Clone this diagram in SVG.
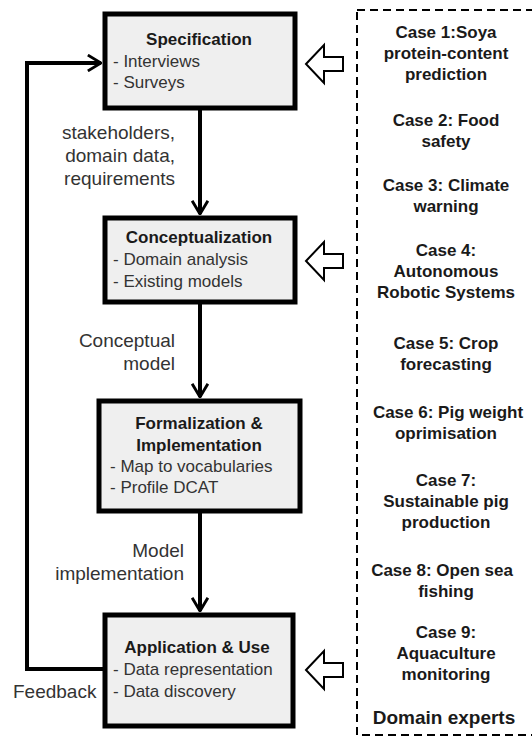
<svg xmlns="http://www.w3.org/2000/svg" width="532" height="737" viewBox="0 0 532 737">
<defs>
<style>
.box{fill:#efefef;stroke:#000;stroke-width:5}
.h{font-family:"Liberation Sans",Arial,sans-serif;font-size:17px;font-weight:bold;fill:#1a1a1a;text-anchor:middle}
.i{font-family:"Liberation Sans",Arial,sans-serif;font-size:17px;fill:#333}
.lbl{font-family:"Liberation Sans",Arial,sans-serif;font-size:19px;fill:#333}
.c{font-family:"Liberation Sans",Arial,sans-serif;font-size:17px;font-weight:bold;fill:#1a1a1a;text-anchor:middle}
.conn{fill:none;stroke:#000;stroke-width:4}
.hollow{fill:#fff;stroke:#000;stroke-width:2;stroke-linejoin:miter}
</style>
<marker id="ah" viewBox="0 0 12 14" refX="11" refY="7" markerWidth="4" markerHeight="4.6" markerUnits="strokeWidth" orient="auto">
<path d="M1,1 L11,7 L1,13" fill="none" stroke="#000" stroke-width="2.2"/>
</marker>
</defs>
<rect width="532" height="737" fill="#fff"/>

<g id="connectors">
<line class="conn" x1="200" y1="110" x2="200" y2="214" marker-end="url(#ah)"/>
<line class="conn" x1="200" y1="304" x2="200" y2="397" marker-end="url(#ah)"/>
<line class="conn" x1="200" y1="513" x2="200" y2="611" marker-end="url(#ah)"/>
<polyline class="conn" points="103,669 27,669 27,63 101,63" marker-end="url(#ah)"/>
<text class="lbl" x="175" y="139" text-anchor="end">stakeholders,</text>
<text class="lbl" x="175" y="162" text-anchor="end">domain data,</text>
<text class="lbl" x="175" y="185" text-anchor="end">requirements</text>
<text class="lbl" x="175" y="347" text-anchor="end">Conceptual</text>
<text class="lbl" x="175" y="370" text-anchor="end">model</text>
<text class="lbl" x="184" y="557" text-anchor="end">Model</text>
<text class="lbl" x="184" y="580" text-anchor="end">implementation</text>
<text class="lbl" x="13" y="698">Feedback</text>
<polygon class="hollow" points="306,64 324,45 324,57 343,57 343,71 324,71 324,83"/>
<polygon class="hollow" points="306,261 324,242 324,254 343,254 343,268 324,268 324,280"/>
<polygon class="hollow" points="306,670 324,651 324,663 343,663 343,677 324,677 324,689"/>
</g>

<g id="specification">
<rect class="box" x="105" y="14" width="190" height="94"/>
<text class="h" x="199" y="45">Specification</text>
<text class="i" x="113" y="67">- Interviews</text>
<text class="i" x="113" y="88">- Surveys</text>
</g>

<g id="conceptualization">
<rect class="box" x="105" y="218" width="190" height="84"/>
<text class="h" x="199" y="243">Conceptualization</text>
<text class="i" x="113" y="265">- Domain analysis</text>
<text class="i" x="113" y="287">- Existing models</text>
</g>

<g id="formalization">
<rect class="box" x="99" y="401" width="201" height="110"/>
<text class="h" x="199" y="429">Formalization &amp;</text>
<text class="h" x="199" y="451">Implementation</text>
<text class="i" x="110" y="472">- Map to vocabularies</text>
<text class="i" x="110" y="493">- Profile DCAT</text>
</g>

<g id="application">
<rect class="box" x="105" y="615" width="188" height="111"/>
<text class="h" x="197" y="653">Application &amp; Use</text>
<text class="i" x="113" y="675">- Data representation</text>
<text class="i" x="113" y="697">- Data discovery</text>
</g>

<g id="domain-experts">
<rect x="357" y="10" width="190" height="725" fill="none" stroke="#000" stroke-width="2" stroke-dasharray="8,5"/>
<text class="c" x="446" y="38">Case 1:Soya</text>
<text class="c" x="446" y="59">protein-content</text>
<text class="c" x="446" y="80">prediction</text>
<text class="c" x="446" y="126">Case 2: Food</text>
<text class="c" x="446" y="147">safety</text>
<text class="c" x="446" y="191">Case 3: Climate</text>
<text class="c" x="446" y="212">warning</text>
<text class="c" x="446" y="256">Case 4:</text>
<text class="c" x="446" y="277">Autonomous</text>
<text class="c" x="446" y="298">Robotic Systems</text>
<text class="c" x="446" y="349">Case 5: Crop</text>
<text class="c" x="446" y="370">forecasting</text>
<text class="c" x="448" y="418">Case 6: Pig weight</text>
<text class="c" x="446" y="439">oprimisation</text>
<text class="c" x="446" y="486">Case 7:</text>
<text class="c" x="446" y="507">Sustainable pig</text>
<text class="c" x="446" y="528">production</text>
<text class="c" x="442" y="576">Case 8: Open sea</text>
<text class="c" x="446" y="597">fishing</text>
<text class="c" x="446" y="638">Case 9:</text>
<text class="c" x="446" y="659">Aquaculture</text>
<text class="c" x="446" y="680">monitoring</text>
<text class="c" x="444" y="724" style="font-size:19px">Domain experts</text>
</g>
</svg>
